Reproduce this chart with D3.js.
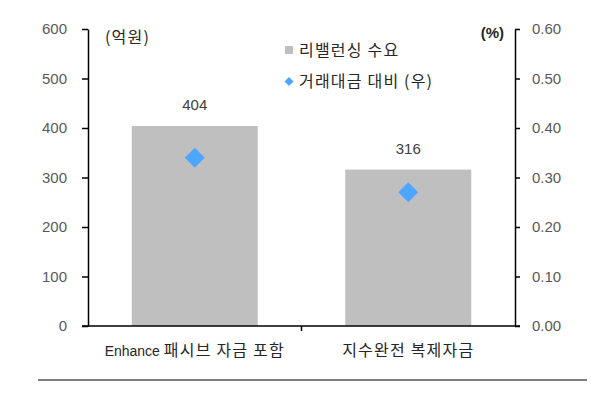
<!DOCTYPE html>
<html>
<head>
<meta charset="utf-8">
<script src="https://cdn.jsdelivr.net/npm/d3@7"></script>
<style>
  body { margin: 0; background: #fff; }
  svg { display: block; }
  .tick text { font-family: 'Liberation Sans', Arial, sans-serif; font-size: 15px; fill: #595959; }
</style>
</head>
<body>
<div id="chart"></div>
<script>
const categories = ['Enhance 패시브 자금 포함', '지수완전 복제자금']
const demand = [404, 316]
const ratio = [0.34, 0.27]
const leftTicks = [0, 100, 200, 300, 400, 500, 600]
const rightTicks = [0, 0.1, 0.2, 0.3, 0.4, 0.5, 0.6]
const legendLabels = ['리밸런싱 수요', '거래대금 대비 (우)']

const width = 600
const height = 397
const margin = { top: 29, right: 85, bottom: 71, left: 88 }
const barColor = '#bfbfbf'
const dotColor = '#4da6ff'
const korFont = "'Noto Sans CJK KR', sans-serif"
const latFont = "'Liberation Sans', Arial, sans-serif"

const svg = d3.select('#chart').append('svg')
    .attr('width', width).attr('height', height)

const x = d3.scaleBand()
    .domain(categories)
    .range([margin.left, width - margin.right])
    .paddingInner(0.41)
    .paddingOuter(0.205)
const yL = d3.scaleLinear().domain([0, 600]).range([height - margin.bottom, margin.top])
const yR = d3.scaleLinear().domain([0, 0.6]).range([height - margin.bottom, margin.top])

// mixed latin / hangul text, split into runs
function mixedText(sel, str) {
    const runs = str.match(/[\x00-\x7F]+|[^\x00-\x7F]+/g)
    runs.forEach(r => {
        const latin = /[A-Za-z0-9%]/.test(r) && !/[^\x00-\x7F]/.test(r) && r.trim().length > 1
        sel.append('tspan').text(r)
            .style('font-family', latin ? latFont : korFont)
            .style('font-size', latin ? '14px' : '16px')
            .style('letter-spacing', latin ? '0px' : '1.2px')
    })
}

// bars
svg.append('g').selectAll('rect')
    .data(demand)
    .join('rect')
    .attr('x', (d, i) => x(categories[i]))
    .attr('width', x.bandwidth())
    .attr('y', d => yL(d))
    .attr('height', d => yL(0) - yL(d))
    .attr('fill', barColor)

// bar value labels
svg.append('g').selectAll('text')
    .data(demand)
    .join('text')
    .attr('x', (d, i) => x(categories[i]) + x.bandwidth() / 2)
    .attr('y', d => yL(d) - 16)
    .attr('text-anchor', 'middle')
    .style('font-family', latFont).style('font-size', '15px').style('fill', '#404040')
    .text(d => d)

// diamonds
const diamond = d3.symbol().type(d3.symbolSquare).size(200)
svg.append('g').selectAll('path')
    .data(ratio)
    .join('path')
    .attr('d', diamond)
    .attr('transform', (d, i) => `translate(${x(categories[i]) + x.bandwidth() / 2},${yR(d)}) rotate(45)`)
    .attr('fill', dotColor)

// axes
const leftAxis = svg.append('g')
    .attr('transform', `translate(${margin.left},0)`)
    .call(d3.axisLeft(yL).tickValues(leftTicks).tickSize(6).tickSizeOuter(0).tickPadding(15))
const rightAxis = svg.append('g')
    .attr('transform', `translate(${width - margin.right},0)`)
    .call(d3.axisRight(yR).tickValues(rightTicks).tickSize(5).tickSizeOuter(0).tickPadding(12)
        .tickFormat(d3.format('.2f')))
svg.selectAll('.domain, .tick line').attr('stroke', '#000').attr('stroke-width', 1.5)

// x axis line with boundary ticks
const y0 = yL(0)
const gap = (x.step() - x.bandwidth()) / 2
const xAxis = svg.append('g')
xAxis.append('line')
    .attr('x1', x.range()[0] - 6).attr('x2', x.range()[1] + 5)
    .attr('y1', y0).attr('y2', y0)
    .attr('stroke', '#000').attr('stroke-width', 1.5)
xAxis.selectAll('.bnd')
    .data(categories.slice(1))
    .join('line')
    .attr('x1', d => x(d) - gap).attr('x2', d => x(d) - gap)
    .attr('y1', y0).attr('y2', y0 + 5)
    .attr('stroke', '#000').attr('stroke-width', 1.5)
xAxis.selectAll('text')
    .data(categories)
    .join('text')
    .attr('x', d => x(d) + x.bandwidth() / 2)
    .attr('y', y0 + 30)
    .attr('text-anchor', 'middle')
    .style('fill', '#262626')
    .each(function (d) { mixedText(d3.select(this), d) })

// unit labels
svg.append('text')
    .attr('x', 105).attr('y', 43)
    .style('fill', '#262626').style('font-family', korFont).style('font-size', '16px')
    .style('letter-spacing', '1.2px')
    .text('(억원)')
svg.append('text')
    .attr('x', 504).attr('y', 38)
    .attr('text-anchor', 'end')
    .style('fill', '#262626').style('font-family', latFont).style('font-size', '15px')
    .style('font-weight', 'bold')
    .text('(%)')

// legend
const legend = svg.append('g').attr('transform', 'translate(289,0)')
legend.append('rect')
    .attr('x', -4).attr('y', 46).attr('width', 8).attr('height', 8)
    .attr('fill', barColor)
legend.append('path')
    .attr('d', d3.symbol().type(d3.symbolSquare).size(40))
    .attr('transform', 'translate(0,81.5) rotate(45)')
    .attr('fill', dotColor)
legend.selectAll('text')
    .data(legendLabels)
    .join('text')
    .attr('x', 10)
    .attr('y', (d, i) => 56 + i * 31)
    .style('fill', '#262626').style('font-family', korFont).style('font-size', '16px')
    .style('letter-spacing', '1.2px')
    .text(d => d)

// bottom rule
svg.append('line')
    .attr('x1', 38).attr('x2', 587)
    .attr('y1', 380).attr('y2', 380)
    .attr('stroke', '#555').attr('stroke-width', 1.5)
</script>
</body>
</html>
